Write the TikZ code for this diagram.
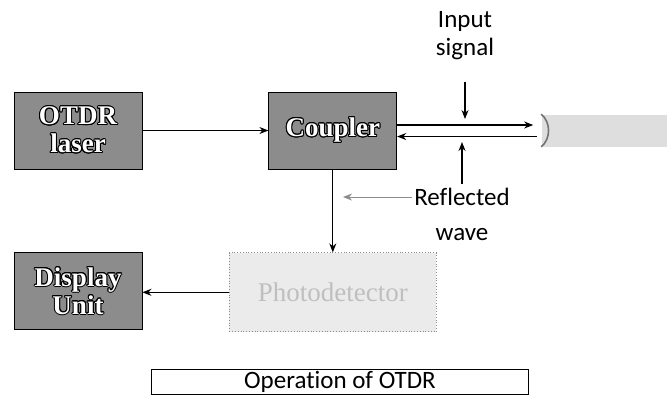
\documentclass[tikz,border=0pt]{standalone}
\usepackage{fontspec}
\setmainfont{Carlito}[Ligatures=NoCommon]
\newfontfamily\boxfont{Liberation Serif}
\usepackage{contour}
\contourlength{0.5pt}
\usetikzlibrary{positioning,arrows.meta,calc}

\begin{document}
\begin{tikzpicture}[
    x=0.5pt, y=-0.5pt,
    node distance=41.5pt and 63pt,
    block/.style={draw=black, fill=black!45, minimum width=64pt, minimum height=38.5pt, align=center, inner sep=1pt, font=\boxfont\bfseries\fontsize{13.5}{14}\selectfont},
    pale/.style={draw=black!45, densely dotted, fill=black!8, minimum height=39.5pt, align=center},
    lbl/.style={inner sep=1pt, font=\fontsize{12.5}{14}\selectfont},
    arr/.style={-{Stealth[length=4.5pt,width=3.5pt]}, line width=0.6pt},
  ]
  \useasboundingbox (0,0) rectangle (667,403);

  % blocks
  \node[block] (laser) at (78,130.5) {\contour{black}{\textcolor{white}{OTDR}}\\ \contour{black}{\textcolor{white}{laser}}};
  \node[block, right=of laser] (coupler) {\contour{black}{\textcolor{white}{Coupler}}};
  \node[block, below=of laser] (disp) {\contour{black}{\textcolor{white}{Display}}\\ \contour{black}{\textcolor{white}{Unit}}};
  \node[pale, minimum width=103.5pt, below=of coupler, font=\boxfont\fontsize{13.5}{14}\selectfont, text=black!25] (det) {Photodetector};
  \node[fill=black!13, minimum width=63.5pt, minimum height=16pt, right=72pt of coupler] (fiber) {};
  \draw[black!55, line width=0.8pt] (fiber.north west) to[bend left=50] (fiber.south west);

  % labels
  \node[lbl] (inp) at (465,21) {Input};
  \node[lbl, below=1pt of inp] (sig) {signal};
  \node[lbl] (refl) at (462,197) {Reflected};
  \node[lbl, below=9pt of refl] (wave) {wave};
  \coordinate (tip) at (343,197);

  % connectors
  \draw[arr] (laser) -- (coupler);
  \draw[arr] ([yshift=2.75pt]coupler.east) -- ([yshift=2.75pt,xshift=-4pt]fiber.west);
  \draw[arr] ([yshift=-3pt,xshift=-2pt]fiber.west) -- ([yshift=-3pt]coupler.east);
  \draw[arr, shorten <=10pt] (sig.south) -- ([yshift=5.75pt]coupler.east -| sig);
  \draw[arr, shorten <=1pt] (refl.north) -- ([yshift=-5.75pt]coupler.east -| refl);
  \draw[arr, black!45, line width=0.4pt] (refl.west) -- (tip);
  \draw[arr] (coupler) -- (det);
  \draw[arr] (det.west) -- (det.west -| disp.east);

  % caption
  \node[draw, line width=0.5pt, minimum width=188.5pt, minimum height=10pt, inner sep=1pt, font=\fontsize{12.5}{14}\selectfont] (cap) at (340,382) {Operation of OTDR};
\end{tikzpicture}
\end{document}
